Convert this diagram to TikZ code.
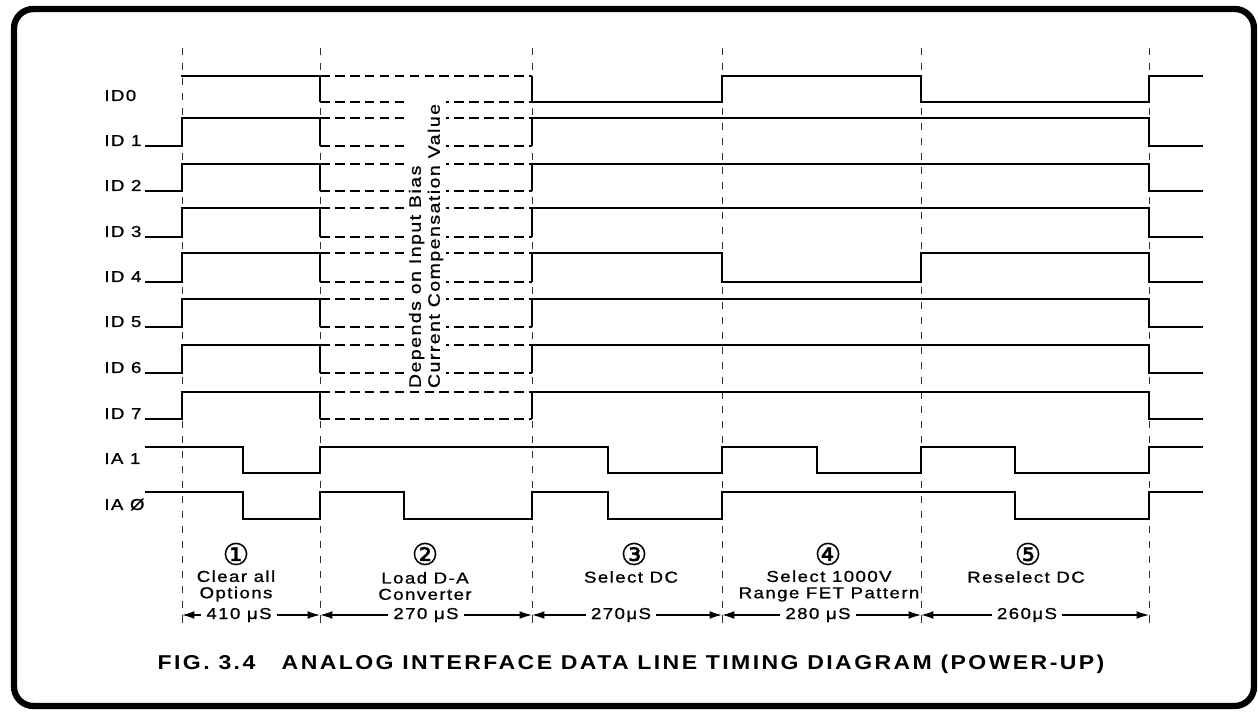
\documentclass[tikz,border=0pt]{standalone}
\usepackage{fontspec}
\setmainfont{Liberation Sans}
\newfontfamily\lblfont[FakeStretch=1.18,LetterSpace=9,FakeBold=0.9]{Liberation Sans}
\newfontfamily\capfont[FakeStretch=1.15,LetterSpace=12]{Liberation Sans}
\newfontfamily\symfont[FakeBold=0.8]{DejaVu Sans}
\usetikzlibrary{arrows.meta}
\begin{document}
\begin{tikzpicture}[x=0.02cm,y=-0.02cm,
  sig/.style={line width=1.2pt,line join=miter,line cap=rect},
  boxside/.style={line width=1.2pt},
  dline/.style={line width=1.2pt,dash pattern=on 5.5pt off 3pt},
  gridline/.style={line width=0.55pt,dash pattern=on 4pt off 4.5pt,black!80},
  lbl/.style={font=\lblfont\fontsize{9}{9.3}\selectfont,inner sep=0pt},
  sym/.style={font=\symfont\fontsize{17}{17}\selectfont,inner sep=0pt},
  dimline/.style={line width=0.75pt,{Latex[length=7pt,width=4.4pt]}-{Latex[length=7pt,width=4.4pt]}},
  dimlbl/.style={lbl,fill=white,inner xsep=3pt,inner ysep=1pt}]
\useasboundingbox (0,0) rectangle (1258,712);
% frame
\draw[line width=3.6pt,rounded corners=11pt] (14,9) rectangle (1254,706);
% time marks
\def\tS{146}\def\tA{182}\def\tB{320}\def\tC{532}\def\tD{722}\def\tE{921}\def\tF{1149}\def\tZ{1202}
\foreach \t [count=\i] in {182,320,532,722,921,1149}
  \draw[gridline] (\t,48) coordinate (g\i top) -- (\t,626) coordinate (g\i bot);
% dashed (undefined) boxes for ID0..ID7
\foreach \h/\l in {76/102,118/146,164/191,208/237,253/282,299/327,345/373,392/419}{
  \draw[dline] (\tB,\h) -- (\tC,\h);
  \draw[dline] (\tB,\l) -- (\tC,\l);
  \draw[boxside] (\tB,\h) -- (\tB,\l);
  \draw[boxside] (\tC,\h) -- (\tC,\l);
}
% ID0
\draw[sig] (\tA,76) -- (\tB,76);
\draw[sig] (\tC,102) -- (\tD,102) -- (\tD,76) -- (\tE,76) -- (\tE,102) -- (\tF,102) -- (\tF,76) -- (\tZ,76);
% ID1,2,3,5,6,7
\foreach \h/\l in {118/146,164/191,208/237,299/327,345/373,392/419}{
  \draw[sig] (\tS,\l) -- (\tA,\l) -- (\tA,\h) -- (\tB,\h);
  \draw[sig] (\tC,\h) -- (\tF,\h) -- (\tF,\l) -- (\tZ,\l);
}
% ID4
\draw[sig] (\tS,282) -- (\tA,282) -- (\tA,253) -- (\tB,253);
\draw[sig] (\tC,253) -- (\tD,253) -- (\tD,282) -- (\tE,282) -- (\tE,253) -- (\tF,253) -- (\tF,282) -- (\tZ,282);
% IA1
\draw[sig] (\tS,447) -- (243,447) -- (243,473) -- (320,473) -- (320,447) -- (608,447) -- (608,473) -- (722,473) -- (722,447) -- (817,447) -- (817,473) -- (921,473) -- (921,447) -- (1015,447) -- (1015,473) -- (1149,473) -- (1149,447) -- (\tZ,447);
% IA0
\draw[sig] (\tS,492) -- (243,492) -- (243,519) -- (320,519) -- (320,492) -- (404,492) -- (404,519) -- (532,519) -- (532,492) -- (608,492) -- (608,519) -- (722,519) -- (722,492) -- (1015,492) -- (1015,519) -- (1149,519) -- (1149,492) -- (\tZ,492);
% row labels
\node[lbl,anchor=base west] (l0) at (104,101) {ID0};
\node[lbl,anchor=base west] (l1) at (104,146) {ID 1};
\node[lbl,anchor=base west] (l2) at (104,191) {ID 2};
\node[lbl,anchor=base west] (l3) at (104,237) {ID 3};
\node[lbl,anchor=base west] (l4) at (104,282) {ID 4};
\node[lbl,anchor=base west] (l5) at (104,327) {ID 5};
\node[lbl,anchor=base west] (l6) at (104,373) {ID 6};
\node[lbl,anchor=base west] (l7) at (104,419) {ID 7};
\node[lbl,anchor=base west] (la1) at (104,464) {IA 1};
\node[lbl,anchor=base west] (la0) at (104,510) {IA Ø};
% rotated note
\node[lbl,rotate=90,anchor=west,align=left,fill=white,inner sep=1.5pt,font=\lblfont\fontsize{9.4}{10.8}\selectfont] (note) at (426,391) {Depends on Input Bias\\Current Compensation Value};
% phase annotations
\node[sym] (c1) at (236,554) {①};
\node[sym] (c2) at (425,554) {②};
\node[sym] (c3) at (634,554) {③};
\node[sym] (c4) at (828,554) {④};
\node[sym] (c5) at (1028,554) {⑤};
\node[lbl,align=center] (p1) at (236,586) {Clear all\\Options};
\node[lbl,align=center] (p2) at (425,586) {Load D-A\\Converter};
\node[lbl,align=center] (p3) at (631,577) {Select DC};
\node[lbl,align=center] (p4) at (829,586) {Select 1000V\\Range FET Pattern};
\node[lbl,align=center] (p5) at (1026,577) {Reselect DC};
% durations
\draw[dimline] (\tA,615) coordinate (d0) -- (\tB,615) coordinate (d1);
\draw[dimline] (\tB,615) -- (\tC,615) coordinate (d2);
\draw[dimline] (\tC,615) -- (\tD,615) coordinate (d3);
\draw[dimline] (\tD,615) -- (\tE,615) coordinate (d4);
\draw[dimline] (\tE,615) -- (\tF,615) coordinate (d5);
\node[dimlbl] (m1) at (239,615) {410 μS};
\node[dimlbl] (m2) at (426,615) {270 μS};
\node[dimlbl] (m3) at (621,615) {270μS};
\node[dimlbl] (m4) at (818,615) {280 μS};
\node[dimlbl] (m5) at (1027,615) {260μS};
% caption
\node[font=\capfont\bfseries\fontsize{11.4}{12}\selectfont,inner sep=0pt] (cap) at (631,664) {FIG. 3.4~~ ANALOG INTERFACE DATA LINE TIMING DIAGRAM (POWER-UP)};
\end{tikzpicture}
\end{document}
